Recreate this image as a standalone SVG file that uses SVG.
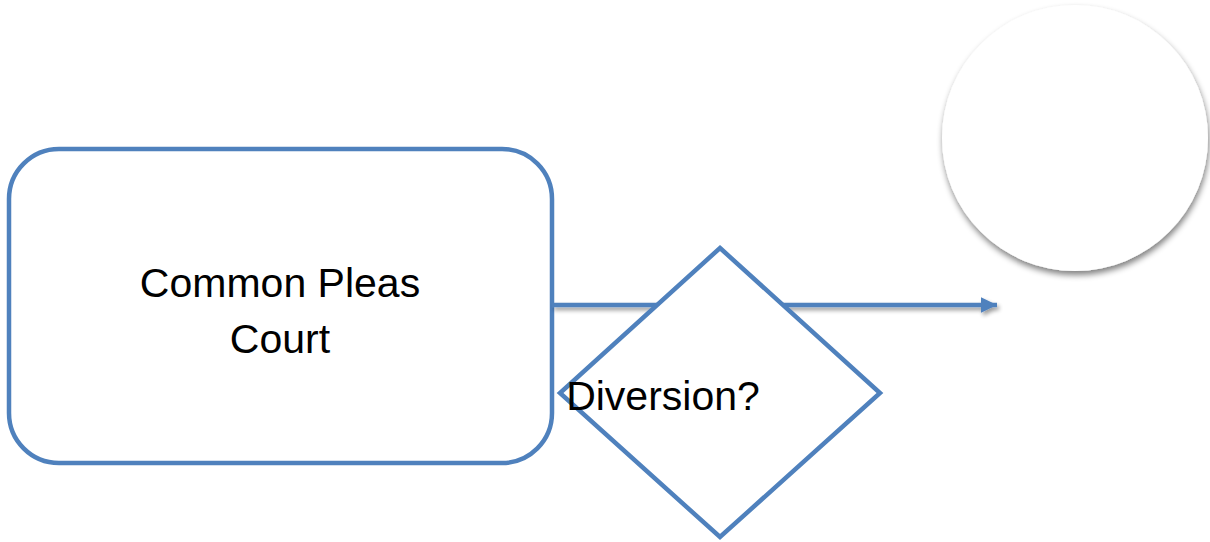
<svg xmlns="http://www.w3.org/2000/svg" width="1210" height="542" viewBox="0 0 1210 542">
<style>
.shape{fill:#ffffff;stroke:#4f81bd;stroke-width:4.5}
.lbl{font-family:"Liberation Sans",Arial,sans-serif;font-size:41px;fill:#000000;text-anchor:middle}
.conn{stroke:#4f81bd;stroke-width:4.5;fill:none}
</style>
<defs>
<filter id="sh" x="-20%" y="-20%" width="150%" height="150%">
<feGaussianBlur in="SourceAlpha" stdDeviation="3"/>
<feOffset dx="1" dy="4" result="b"/>
<feComponentTransfer><feFuncA type="linear" slope="0.5"/></feComponentTransfer>
<feMerge><feMergeNode/><feMergeNode in="SourceGraphic"/></feMerge>
</filter>
<filter id="lsh" filterUnits="userSpaceOnUse" x="530" y="285" width="490" height="40">
<feGaussianBlur in="SourceAlpha" stdDeviation="2"/>
<feOffset dx="2" dy="3" result="b"/>
<feComponentTransfer><feFuncA type="linear" slope="0.4"/></feComponentTransfer>
<feMerge><feMergeNode/><feMergeNode in="SourceGraphic"/></feMerge>
</filter>
<marker id="arr" markerWidth="4" markerHeight="4" refX="3.6" refY="1.75" orient="auto" markerUnits="strokeWidth">
<path d="M0,0 L3.6,1.75 L0,3.5 Z" fill="#4f81bd"/>
</marker>
</defs>
<g id="circle"><circle cx="1075" cy="138" r="133" fill="#ffffff" filter="url(#sh)"/></g>
<g id="court">
<rect class="shape" x="9" y="149" width="543" height="314" rx="50" ry="50"/>
<text class="lbl" x="280" y="297">Common Pleas</text>
<text class="lbl" x="280" y="353">Court</text>
</g>
<g id="connectors">
<line class="conn" x1="552" y1="305" x2="997" y2="305" marker-end="url(#arr)" filter="url(#lsh)"/>
</g>
<g id="diversion">
<polygon class="shape" points="720,248 880,393 720,537 560,393"/>
<text class="lbl" x="663" y="410">Diversion?</text>
</g>
</svg>
